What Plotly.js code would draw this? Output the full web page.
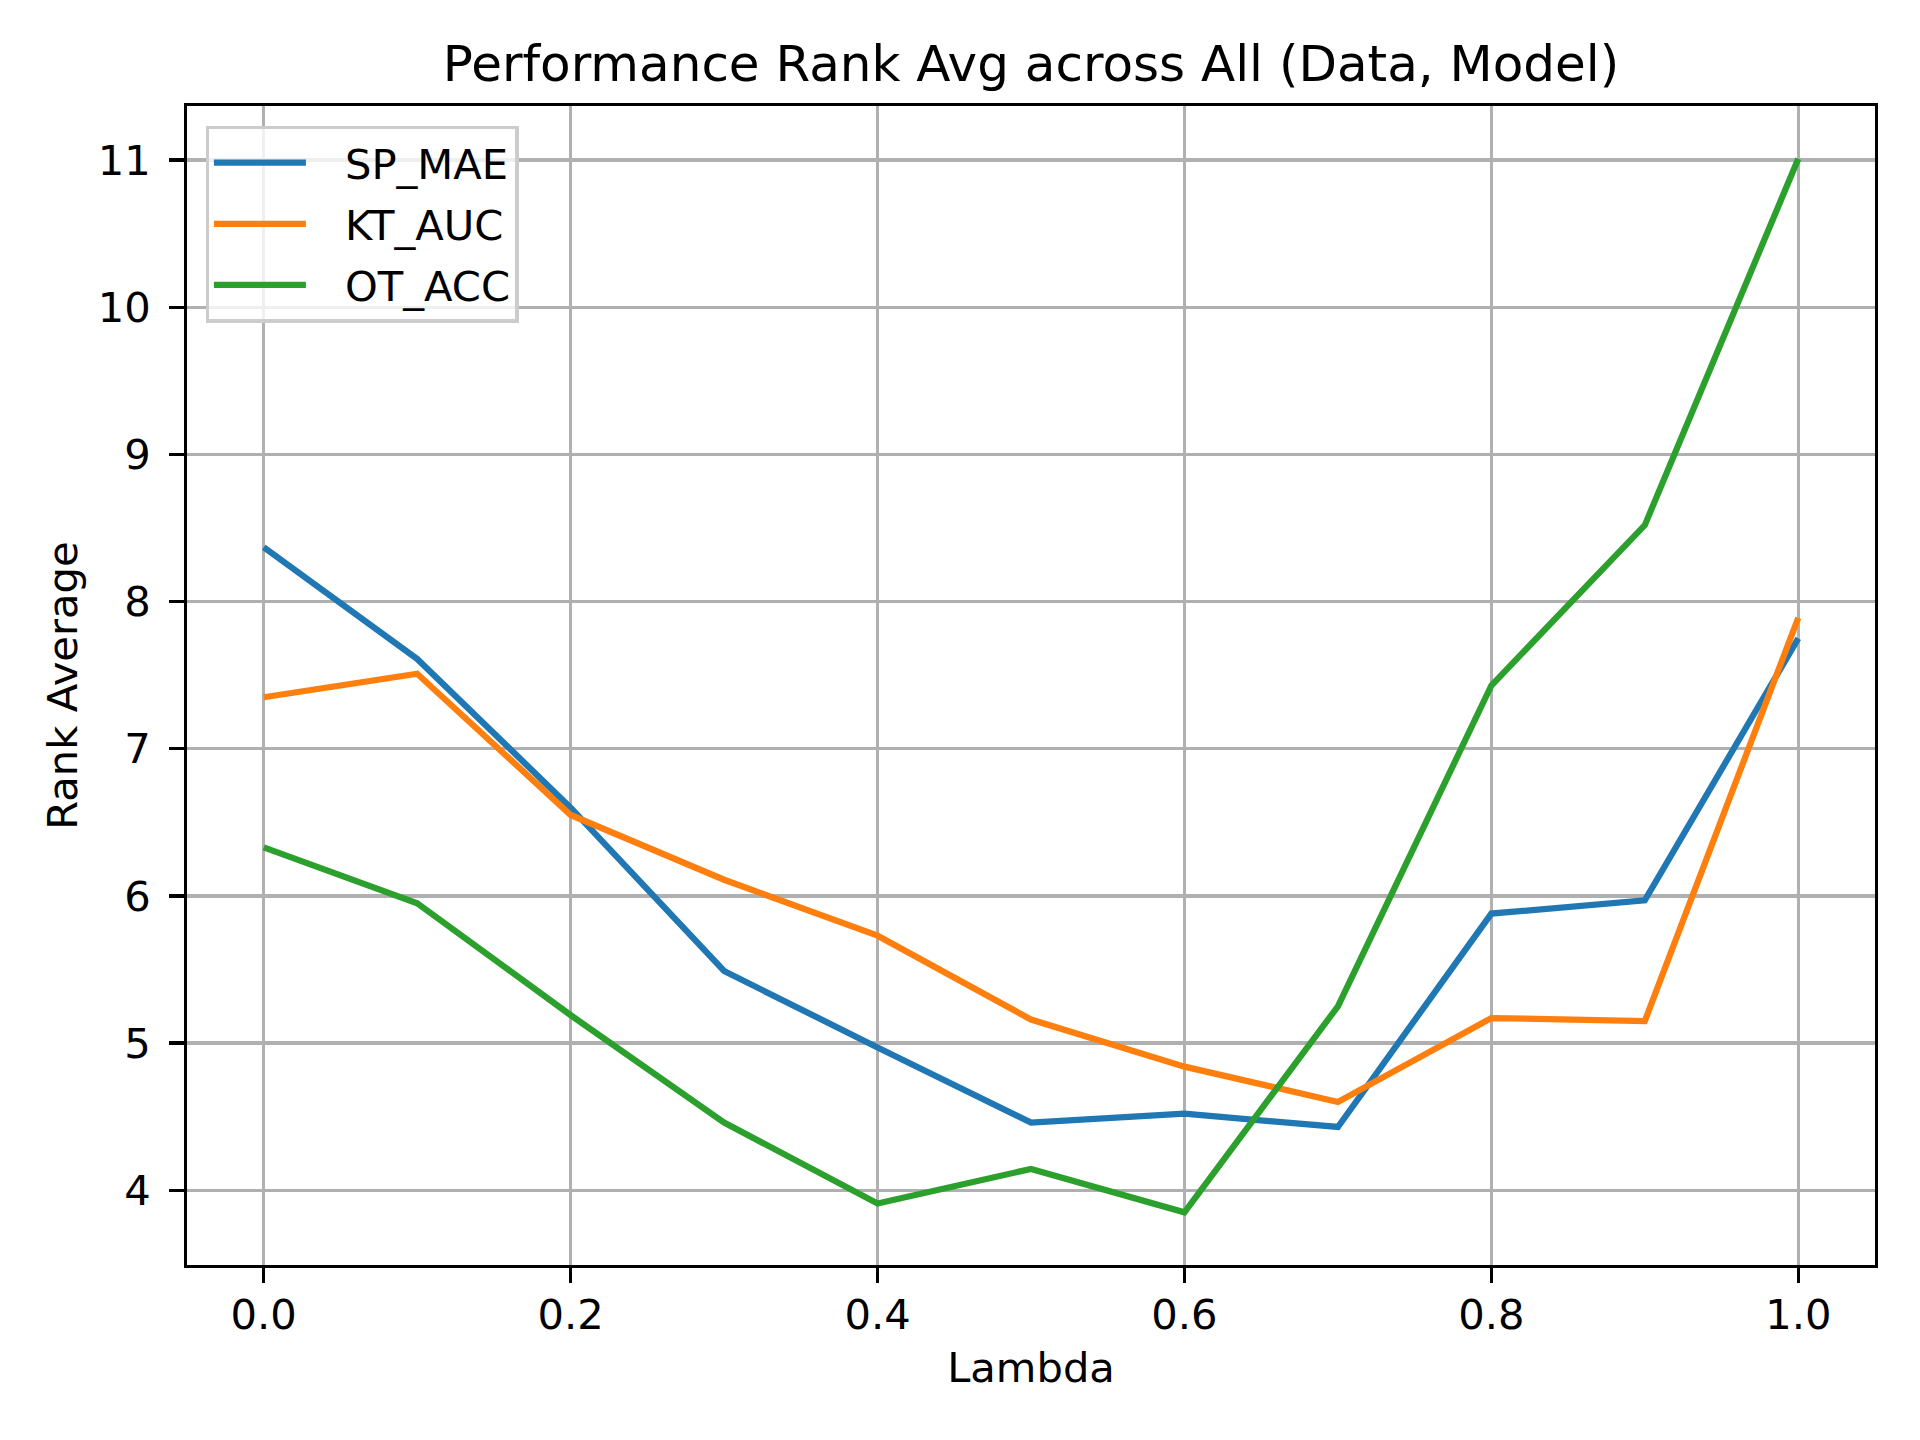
<!DOCTYPE html>
<html>
<head>
<meta charset="utf-8">
<script src="https://cdn.plot.ly/plotly-3.0.1.min.js"></script>
<style>
  html, body { margin: 0; padding: 0; background: #ffffff; }
  #chart { width: 1920px; height: 1440px; }
</style>
</head>
<body>
<div id="chart"></div>
<script>
// ---- data ----
const lambdas = [0.0, 0.1, 0.2, 0.3, 0.4, 0.5, 0.6, 0.7, 0.8, 0.9, 1.0];
const spMae  = [8.37, 7.61, 6.60, 5.49, 4.97, 4.46, 4.52, 4.43, 5.88, 5.97, 7.75];
const ktAuc  = [7.35, 7.51, 6.55, 6.11, 5.73, 5.16, 4.84, 4.60, 5.17, 5.15, 7.89];
const otAcc  = [6.33, 5.95, 5.19, 4.46, 3.91, 4.145, 3.85, 5.25, 7.43, 8.52, 11.01];
const seriesNames = ["SP_MAE", "KT_AUC", "OT_ACC"];
const seriesColors = ["#1f77b4", "#ff7f0e", "#2ca02c"];
const xTickVals = [0.0, 0.2, 0.4, 0.6, 0.8, 1.0];
const xTickText = ["0.0", "0.2", "0.4", "0.6", "0.8", "1.0"];
const yTickVals = [4, 5, 6, 7, 8, 9, 10, 11];
const yTickText = ["4", "5", "6", "7", "8", "9", "10", "11"];
const chartTitle = "Performance Rank Avg across All (Data, Model)";
const xLabel = "Lambda";
const yLabel = "Rank Average";

// ---- build ----
const FONT = "DejaVu Sans, Liberation Sans, sans-serif";
const PT = 300 / 72; // matplotlib points -> px at 300 dpi
const allSeries = [spMae, ktAuc, otAcc];
const LEGEND_PAD = "\u2002\u00a0"; // gap between legend line and label

const traces = allSeries.map((ys, i) => ({
  type: "scatter",
  mode: "lines",
  x: lambdas,
  y: ys,
  name: LEGEND_PAD + seriesNames[i],
  legendgroup: "g" + i,
  line: { color: seriesColors[i], width: 1.5 * PT },
  hoverinfo: "skip"
}));

// matplotlib-style 5% margins computed from the data
function padded(vals) {
  const lo = Math.min(...vals), hi = Math.max(...vals);
  const m = (hi - lo) * 0.05;
  return [lo - m, hi + m];
}
const xRange = padded(lambdas);
const yRange = padded([].concat(...allSeries));

const axisCommon = {
  showline: true,
  mirror: true,
  linecolor: "#000000",
  linewidth: 0.8 * PT,
  ticks: "outside",
  ticklen: 3.5 * PT,
  tickwidth: 0.8 * PT,
  tickcolor: "#000000",
  showgrid: true,
  gridcolor: "#b0b0b0",
  gridwidth: 0.8 * PT,
  zeroline: false,
  tickfont: { family: FONT, size: 10 * PT, color: "#000000" },
  tickmode: "array"
};

const layout = {
  width: 1920,
  height: 1440,
  paper_bgcolor: "#ffffff",
  plot_bgcolor: "#ffffff",
  margin: { l: 187, r: 45, t: 106, b: 175, autoexpand: false },
  font: { family: FONT, color: "#000000" },
  title: {
    text: chartTitle,
    font: { family: FONT, size: 12 * PT, color: "#000000" },
    xref: "paper",
    x: 0.5,
    xanchor: "center",
    yref: "container",
    y: 1 - 81 / 1440,
    yanchor: "bottom"
  },
  xaxis: Object.assign({}, axisCommon, {
    range: xRange,
    tickvals: xTickVals,
    ticktext: xTickText,
    ticklabelstandoff: -4,
    title: { text: xLabel, font: { family: FONT, size: 10 * PT, color: "#000000" }, standoff: 16 }
  }),
  yaxis: Object.assign({}, axisCommon, {
    range: yRange,
    tickvals: yTickVals,
    ticktext: yTickText,
    ticklabelstandoff: 10,
    title: { text: yLabel, font: { family: FONT, size: 10 * PT, color: "#000000" }, standoff: 8 }
  }),
  showlegend: true,
  legend: {
    x: 0.011,
    y: 0.983,
    xanchor: "left",
    yanchor: "top",
    bgcolor: "rgba(255,255,255,0.8)",
    bordercolor: "#cccccc",
    borderwidth: 0.8 * PT,
    font: { family: FONT, size: 10 * PT, color: "#000000" },
    itemwidth: 92,
    tracegroupgap: 4
  }
};

Plotly.newPlot("chart", traces, layout, { staticPlot: true, displayModeBar: false });
</script>
</body>
</html>
